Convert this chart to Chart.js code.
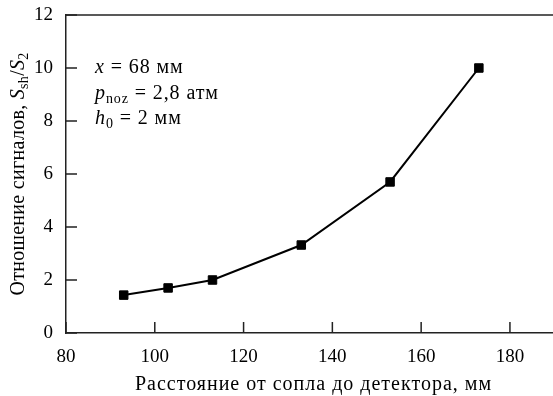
<!DOCTYPE html>
<html>
<head>
<meta charset="utf-8">
<script src="https://cdn.jsdelivr.net/npm/chart.js@4.4.1/dist/chart.umd.min.js"></script>
<style>
  html, body { margin: 0; padding: 0; background: #fff; }
  #wrap { width: 553px; height: 396px; }
</style>
</head>
<body>
<div id="wrap"><canvas id="chart"></canvas></div>
<script>
// Данные
const distance = [93, 103, 113, 133, 153, 173];
const ratio = [1.43, 1.7, 2.0, 3.32, 5.7, 10.0];
const xTicks = [80, 100, 120, 140, 160, 180];

const xTitle = [{ t: "Расстояние от сопла до детектора, мм" }];
// подписи с курсивом и индексами
const yTitle = [
  { t: "Отношение сигналов, " },
  { t: "S", it: true }, { t: "sh", sub: true }, { t: "/" },
  { t: "S", it: true }, { t: "2", sub: true },
];
const notes = [
  [{ t: "x", it: true }, { t: " = 68 мм" }],
  [{ t: "p", it: true }, { t: "noz", sub: true }, { t: " = 2,8 атм" }],
  [{ t: "h", it: true }, { t: "0", sub: true }, { t: " = 2 мм" }],
];

const SERIF = '"Liberation Serif", "DejaVu Serif", serif';

function segFont(s, size) {
  const sz = s.sub ? Math.round(size * 0.68) : size;
  return (s.it ? "italic " : "") + sz + "px " + SERIF;
}

function drawRich(g, segs, x, y, size, center, spacing) {
  g.letterSpacing = (spacing || 0) + "px";
  let total = 0;
  segs.forEach((s) => {
    g.font = segFont(s, size);
    total += g.measureText(s.t).width;
  });
  let cx = center ? x - total / 2 : x;
  g.textAlign = "left";
  g.textBaseline = "alphabetic";
  segs.forEach((s) => {
    g.font = segFont(s, size);
    g.fillText(s.t, cx, s.sub ? y + size * 0.22 : y);
    cx += g.measureText(s.t).width;
  });
  g.letterSpacing = "0px";
}

const decor = {
  id: "decor",
  afterDraw(chart) {
    const g = chart.ctx;
    const a = chart.chartArea;
    const xs = chart.scales.x;
    const ys = chart.scales.y;
    g.save();
    g.strokeStyle = "#222";
    g.lineWidth = 1.5;
    // верхняя рамка
    g.beginPath();
    g.moveTo(a.left, a.top);
    g.lineTo(a.right, a.top);
    g.stroke();
    // засечки внутрь
    g.beginPath();
    xs.ticks.forEach((t) => {
      const px = xs.getPixelForValue(t.value);
      g.moveTo(px, a.bottom);
      g.lineTo(px, a.bottom - 11);
    });
    ys.ticks.forEach((t) => {
      const py = ys.getPixelForValue(t.value);
      g.moveTo(a.left, py);
      g.lineTo(a.left + 11, py);
    });
    g.stroke();

    g.fillStyle = "#000";
    notes.forEach((line, i) => {
      drawRich(g, line, a.left + 29, a.top + 58 + i * 25.5, 20, false, 0.9);
    });

    drawRich(g, xTitle, (a.left + a.right) / 2 + 4, 390, 20, true, 1);

    g.translate(24, (a.top + a.bottom) / 2);
    g.rotate(-Math.PI / 2);
    drawRich(g, yTitle, 0, 0, 20, true, 0.3);
    g.restore();
  },
};

new Chart(document.getElementById("chart"), {
  type: "scatter",
  data: {
    datasets: [
      {
        data: distance.map((d, i) => ({ x: d, y: ratio[i] })),
        showLine: true,
        borderColor: "#000",
        borderWidth: 2,
        backgroundColor: "#000",
        pointStyle: "rect",
        pointRadius: 6,
        pointBorderWidth: 1,
        pointHoverRadius: 6,
      },
    ],
  },
  options: {
    responsive: true,
    maintainAspectRatio: false,
    animation: false,
    layout: { autoPadding: false, padding: { top: 15, right: 0, left: 0, bottom: 0 } },
    plugins: { legend: { display: false }, tooltip: { enabled: false } },
    scales: {
      x: {
        type: "linear",
        min: 80,
        max: 189.7,
        afterFit: (s) => {
          s.height = 63;
          s.paddingLeft = 0;
          s.paddingRight = 0;
        },
        afterBuildTicks: (s) => {
          s.ticks = xTicks.map((v) => ({ value: v }));
        },
        ticks: {
          color: "#000",
          padding: 13,
          autoSkip: false,
          maxRotation: 0,
          font: { family: SERIF, size: 19 },
        },
        grid: { display: true, drawOnChartArea: false, drawTicks: false },
        border: { display: true, color: "#222", width: 1.5 },
      },
      y: {
        min: 0,
        max: 12,
        afterFit: (s) => {
          s.width = 66;
          s.paddingTop = 0;
          s.paddingBottom = 0;
        },
        ticks: {
          stepSize: 2,
          color: "#000",
          padding: 13,
          font: { family: SERIF, size: 19 },
        },
        grid: { display: true, drawOnChartArea: false, drawTicks: false },
        border: { display: true, color: "#222", width: 1.5 },
      },
    },
  },
  plugins: [decor],
});
</script>
</body>
</html>
